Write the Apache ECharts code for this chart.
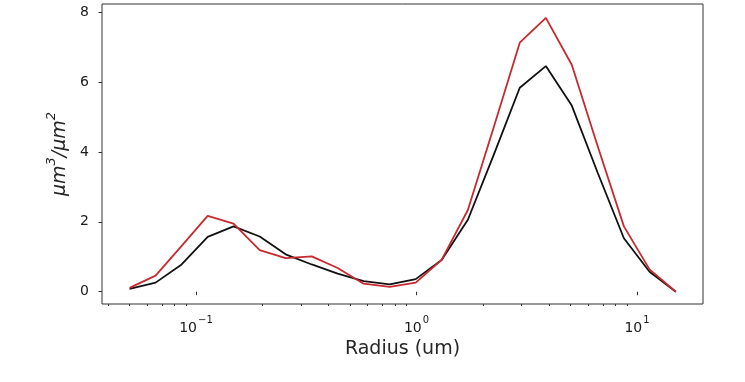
<!DOCTYPE html>
<html>
<head>
<meta charset="utf-8">
<script src="https://cdn.jsdelivr.net/npm/echarts@6/dist/echarts.min.js"></script>
<style>
html,body{margin:0;padding:0;background:#fff;}
#chart{width:745px;height:382px;}
</style>
</head>
<body>
<div id="chart"></div>
<script>
// Radius bins (um)
var radius = [0.05, 0.0656, 0.0861, 0.113, 0.148, 0.1945, 0.255, 0.335, 0.439, 0.576, 0.756, 0.992,
              1.30, 1.71, 2.24, 2.94, 3.86, 5.06, 6.64, 8.72, 11.4, 15.0];
// Volume distribution (um^3/um^2)
var blackSeries = [0.08, 0.26, 0.78, 1.57, 1.87, 1.58, 1.07, 0.78, 0.52, 0.30, 0.21, 0.36,
                   0.91, 2.06, 3.92, 5.84, 6.46, 5.33, 3.40, 1.53, 0.57, 0.0];
var redSeries = [0.11, 0.46, 1.31, 2.17, 1.95, 1.19, 0.96, 1.01, 0.68, 0.23, 0.14, 0.26,
                 0.91, 2.34, 4.71, 7.13, 7.84, 6.50, 4.16, 1.87, 0.64, 0.0];
// Tick marks and labels
var xMajorTicks = [0.1, 1, 10];
var xTickExponents = ['\u22121', '0', '1'];
var xMinorTicks = [0.04, 0.05, 0.06, 0.07, 0.08, 0.09, 0.2, 0.3, 0.4, 0.5, 0.6, 0.7, 0.8, 0.9,
                   2, 3, 4, 5, 6, 7, 8, 9];
var yTicks = [0, 2, 4, 6, 8];
var xName = 'Radius (um)';
var yName = '{it|\u03BCm}{sup|3}{it|/\u03BCm}{sup|2}';

function pairs(xs, ys) {
  return xs.map(function (x, i) { return [x, ys[i]]; });
}

var font = 'DejaVu Sans';
var chart = echarts.init(document.getElementById('chart'), null, {renderer: 'canvas'});
chart.setOption({
  animation: false,
  backgroundColor: '#ffffff',
  grid: {
    left: 102, right: 42, top: 4, bottom: 78,
    show: true, borderColor: '#333333', borderWidth: 1, backgroundColor: 'transparent'
  },
  xAxis: [
    {
      type: 'log', logBase: 10, min: 0.03748, max: 19.92,
      position: 'bottom',
      name: xName, nameLocation: 'middle', nameGap: 33,
      nameTextStyle: {fontFamily: font, fontSize: 19, color: '#262626'},
      axisLine: {show: false},
      splitLine: {show: false},
      axisTick: {show: true, customValues: xMajorTicks, length: 3.5, inside: false,
                 lineStyle: {color: '#333333', width: 1}},
      axisLabel: {
        show: true, customValues: xMajorTicks, margin: 11,
        fontFamily: font, fontSize: 14, color: '#1a1a1a',
        formatter: function (v) {
          var e = Math.round(Math.log(v) / Math.LN10);
          var idx = xMajorTicks.findIndex(function (t) { return Math.round(Math.log(t) / Math.LN10) === e; });
          return idx >= 0 ? '{b|10}{s|' + xTickExponents[idx] + '}' : '';
        },
        rich: {
          b: {fontFamily: font, fontSize: 14, color: '#1a1a1a', lineHeight: 20, verticalAlign: 'bottom'},
          s: {fontFamily: font, fontSize: 10, color: '#1a1a1a', lineHeight: 20, verticalAlign: 'top', padding: [0, 0, 0, 1]}
        }
      }
    },
    {
      type: 'log', logBase: 10, min: 0.03748, max: 19.92,
      position: 'bottom', offset: 0,
      axisLine: {show: false},
      splitLine: {show: false},
      axisLabel: {show: false},
      axisTick: {show: true, customValues: xMinorTicks, length: 2, inside: false,
                 lineStyle: {color: '#333333', width: 1}}
    }
  ],
  yAxis: {
    type: 'value', min: -0.352, max: 8.238,
    name: yName, nameLocation: 'middle', nameGap: 30, nameRotate: 90,
    nameTextStyle: {
      fontFamily: font, fontSize: 19, color: '#262626',
      rich: {
        it: {fontFamily: font, fontSize: 19, fontStyle: 'italic', color: '#262626', lineHeight: 24, verticalAlign: 'bottom'},
        sup: {fontFamily: font, fontSize: 13, fontStyle: 'italic', color: '#262626', lineHeight: 24, verticalAlign: 'top'}
      }
    },
    axisLine: {show: false},
    splitLine: {show: false},
    axisTick: {show: true, customValues: yTicks, length: 3.5, inside: false,
               lineStyle: {color: '#333333', width: 1}},
    axisLabel: {show: true, customValues: yTicks, margin: 13,
                fontFamily: font, fontSize: 14, color: '#1a1a1a'}
  },
  series: [
    {
      type: 'line', xAxisIndex: 0, data: pairs(radius, blackSeries),
      symbol: 'none', lineStyle: {color: '#111111', width: 1.8}, z: 2
    },
    {
      type: 'line', xAxisIndex: 0, data: pairs(radius, redSeries),
      symbol: 'none', lineStyle: {color: '#c62a2f', width: 1.8}, z: 3
    }
  ]
});
</script>
</body>
</html>
